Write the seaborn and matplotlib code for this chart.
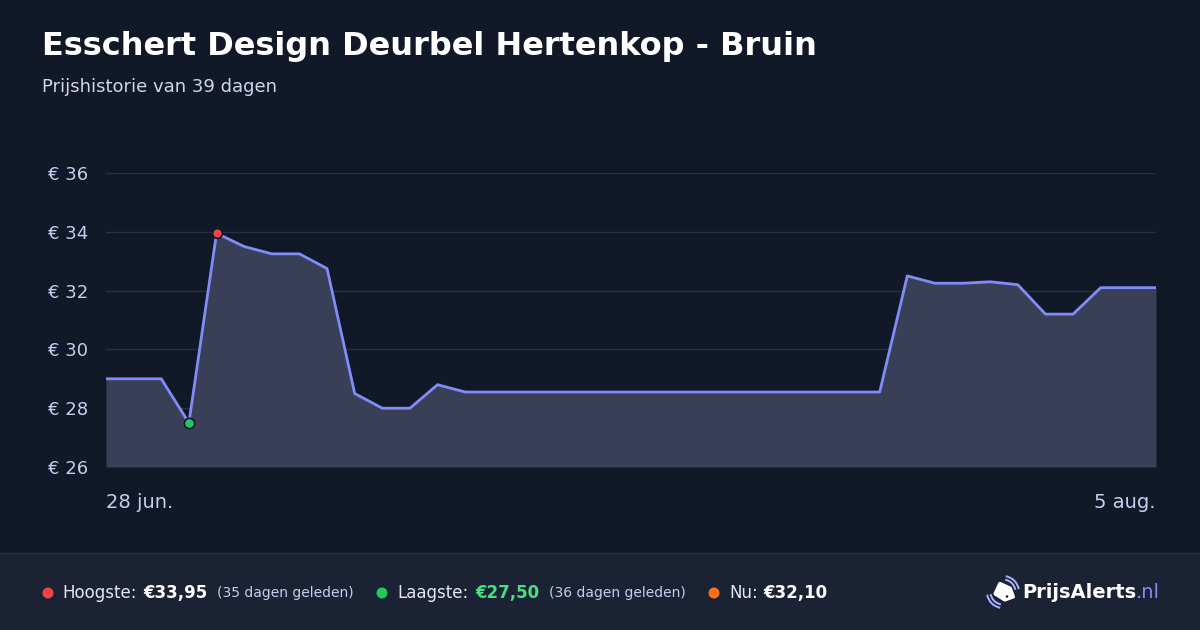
import matplotlib
matplotlib.use('Agg')
import matplotlib.pyplot as plt
import matplotlib.patches as mpatches
import numpy as np
import pandas as pd
import seaborn as sns

# price per day, 28 jun .. 5 aug (39 days)
prices = [29.00, 29.00, 29.00, 27.50, 33.95, 33.50, 33.25, 33.25, 32.75, 28.50,
          28.00, 28.00, 28.80, 28.55, 28.55, 28.55, 28.55, 28.55, 28.55, 28.55,
          28.55, 28.55, 28.55, 28.55, 28.55, 28.55, 28.55, 28.55, 28.55, 32.50,
          32.25, 32.25, 32.30, 32.20, 31.20, 31.20, 32.10, 32.10, 32.10]
y_ticks = [26, 28, 30, 32, 34, 36]
x_labels = ['28 jun.', '5 aug.']

title = 'Esschert Design Deurbel Hertenkop - Bruin'
subtitle = 'Prijshistorie van 39 dagen'

bg = '#111827'
footer_bg = '#1a2233'
line_col = '#818cf8'
fill_col = '#3a3f58'
grid_col = '#283042'
tick_col = '#c7cdf0'

df = pd.DataFrame({'dag': np.arange(len(prices)), 'prijs': prices})

sns.set_theme(style='dark')
plt.rcParams['font.family'] = ['DejaVu Sans']

W, H = 1200, 630
fig = plt.figure(figsize=(12, 6.3), dpi=100, facecolor=bg)

# overlay in pixel coordinates for footer / decorations
ov = fig.add_axes([0, 0, 1, 1], zorder=0)
ov.set_xlim(0, W)
ov.set_ylim(H, 0)
ov.axis('off')
ov.add_patch(mpatches.Rectangle((0, 553), W, H - 553, facecolor=footer_bg, edgecolor='none'))
ov.plot([0, W], [553, 553], color='#263045', lw=1)

# plot area: x 106..1156, y 173(36)..467(26)
ax = fig.add_axes([106 / W, 1 - 467 / H, 1050 / W, 294 / H], zorder=1)
ax.set_facecolor(bg)
ax.fill_between(df['dag'], df['prijs'], 26, color=fill_col, lw=0, zorder=1)
sns.lineplot(data=df, x='dag', y='prijs', ax=ax, color=line_col, lw=2, zorder=3)

imax = int(np.argmax(prices))
imin = int(np.argmin(prices))
ax.scatter([imax], [prices[imax]], s=50, color='#ef4444', edgecolor=bg, lw=1.2, zorder=5, clip_on=False)
ax.scatter([imin], [prices[imin]], s=55, color='#22c55e', edgecolor=bg, lw=1.2, zorder=5, clip_on=False)

ax.set_xlim(0, len(prices) - 1)
ax.set_ylim(26, 36)
ax.set_yticks(y_ticks)
ax.set_yticklabels([f'€ {v}' for v in y_ticks], color=tick_col, fontsize=13)
ax.set_xticks([])
ax.set_xlabel('')
ax.set_ylabel('')
ax.grid(axis='y', color=grid_col, lw=1)
ax.tick_params(axis='y', length=0, pad=13)
for s in ax.spines.values():
    s.set_visible(False)
ax.axhline(26, color='#4a5066', lw=1, zorder=2)

# date labels
ov.text(106, 503, x_labels[0], color=tick_col, fontsize=14, ha='left', va='center')
ov.text(1156, 503, x_labels[1], color=tick_col, fontsize=14, ha='right', va='center')

# title
ov.text(42, 47, title, color='white', fontsize=23, fontweight='bold', ha='left', va='center')
ov.text(42, 87, subtitle, color='#d1d5f0', fontsize=13, ha='left', va='center')

# footer stats
fy = 593
def dot(x, c):
    ov.add_patch(mpatches.Circle((x, fy), radius=5.5, facecolor=c, edgecolor='none'))

dot(48, '#ef4444')
ov.text(62, fy, 'Hoogste:', color='#e5e7f5', fontsize=12, va='center')
ov.text(143, fy, '€33,95', color='white', fontsize=12, fontweight='bold', va='center')
ov.text(217, fy, '(35 dagen geleden)', color='#c7cdf0', fontsize=10, va='center')

dot(382, '#22c55e')
ov.text(397, fy, 'Laagste:', color='#e5e7f5', fontsize=12, va='center')
ov.text(475, fy, '€27,50', color='#4ade80', fontsize=12, fontweight='bold', va='center')
ov.text(549, fy, '(36 dagen geleden)', color='#c7cdf0', fontsize=10, va='center')

dot(714, '#f97316')
ov.text(729, fy, 'Nu:', color='#e5e7f5', fontsize=12, va='center')
ov.text(763, fy, '€32,10', color='white', fontsize=12, fontweight='bold', va='center')

# logo icon (tag with signal arcs), pixel coords, y down
cx, cy = 1003, 592
tag = np.array([[-8, -1], [0, -9], [8, -1], [8, 8], [-1, 8]], dtype=float)
ang = np.deg2rad(-20)
rot = np.array([[np.cos(ang), -np.sin(ang)], [np.sin(ang), np.cos(ang)]])
tag = tag @ rot.T + np.array([cx, cy])
ov.add_patch(mpatches.Polygon(tag, closed=True, facecolor='white', edgecolor='white',
                              lw=2.5, joinstyle='round'))
ov.add_patch(mpatches.Circle((cx + 4, cy + 4.5), 1.3, facecolor=footer_bg, edgecolor='none'))
for r in (12.5, 16):
    ov.add_patch(mpatches.Arc((cx, cy), 2 * r, 2 * r, theta1=-80, theta2=-10,
                              color='#a5b4fc', lw=1.4))
    ov.add_patch(mpatches.Arc((cx, cy), 2 * r, 2 * r, theta1=100, theta2=170,
                              color='#a5b4fc', lw=1.4))

t = ov.text(1022, fy, 'PrijsAlerts', color='white', fontsize=14, fontweight='bold',
            va='center', ha='left')
fig.canvas.draw()
bb = t.get_window_extent()
x1 = ov.transData.inverted().transform((bb.x1, bb.y0))[0]
ov.text(x1, fy, '.nl', color=line_col, fontsize=14, va='center', ha='left')

fig.savefig('out.png', dpi=100, facecolor=bg)
